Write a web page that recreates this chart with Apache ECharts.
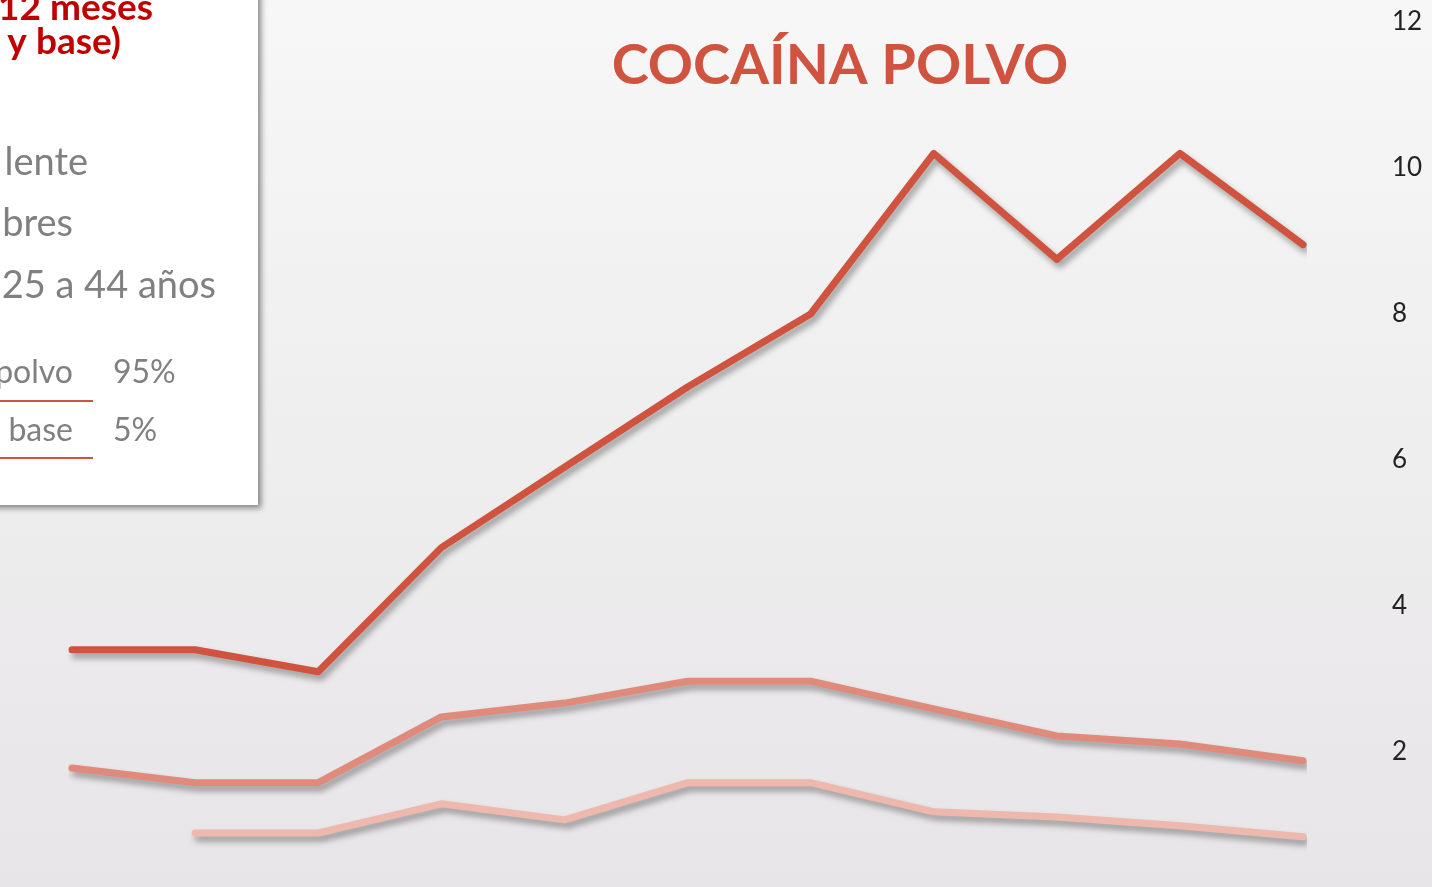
<!DOCTYPE html>
<html>
<head>
<meta charset="utf-8">
<title>Cocaína polvo</title>
<script src="https://cdn.jsdelivr.net/npm/echarts@6/dist/echarts.min.js"></script>
<style>
  html, body { margin: 0; padding: 0; }
  #chart { width: 1432px; height: 887px; }
</style>
</head>
<body>
<div id="chart"></div>
<script>
// datos
var periodos = ['1', '2', '3', '4', '5', '6', '7', '8', '9', '10', '11'];
var serieAlta = [3.4, 3.4, 3.1, 4.8, 5.9, 7.0, 8.0, 10.2, 8.75, 10.2, 8.95];
var serieMedia = [1.78, 1.58, 1.58, 2.48, 2.67, 2.97, 2.97, 2.59, 2.22, 2.11, 1.88];
var serieBaja = ['-', 0.89, 0.89, 1.29, 1.07, 1.58, 1.58, 1.18, 1.11, 0.99, 0.84];
var ticksY = [2, 4, 6, 8, 10, 12];

var rojo = '#d0533f';
var fuente = 'Lato, "Noto Sans", sans-serif';

var myChart = echarts.init(document.getElementById('chart'));

function linea(nombre, datos, color) {
    return {
        name: nombre,
        type: 'line',
        data: datos,
        symbol: 'none',
        smooth: false,
        lineStyle: {
            color: color,
            width: 7,
            cap: 'round',
            join: 'round',
            shadowColor: 'rgba(0, 0, 0, 0.35)',
            shadowBlur: 6,
            shadowOffsetX: 3,
            shadowOffsetY: 5
        },
        z: 3
    };
}

var option = {
    backgroundColor: new echarts.graphic.LinearGradient(0, 0, 0, 1, [
        { offset: 0, color: '#f7f7f7' },
        { offset: 1, color: '#e7e5e7' }
    ]),
    animation: false,
    title: {
        text: 'COCAÍNA POLVO',
        left: 835,
        top: 33,
        textAlign: 'center',
        textStyle: {
            color: rojo,
            fontFamily: fuente,
            fontWeight: 'bold',
            fontSize: 56
        }
    },
    grid: {
        left: 72,
        top: 22,
        width: 1231,
        height: 876,
        outerBoundsMode: 'none'
    },
    xAxis: {
        type: 'category',
        data: periodos,
        boundaryGap: false,
        show: false
    },
    yAxis: {
        type: 'value',
        position: 'right',
        min: 0,
        max: 12,
        interval: 2,
        axisLine: { show: false },
        axisTick: { show: false },
        splitLine: { show: false },
        axisLabel: {
            margin: 89,
            color: '#222',
            fontFamily: fuente,
            fontSize: 26,
            showMinLabel: false,
            formatter: function (v) { return ticksY.indexOf(v) >= 0 ? String(v) : ''; }
        }
    },
    graphic: [
        {
            type: 'rect',
            shape: { x: -20, y: -20, width: 278, height: 525 },
            style: {
                fill: '#ffffff',
                shadowColor: 'rgba(0, 0, 0, 0.45)',
                shadowBlur: 6,
                shadowOffsetX: 3,
                shadowOffsetY: 3
            },
            z: 10
        },
        { type: 'text', x: 153, y: 8, z: 11, style: { text: '12 meses', align: 'right', verticalAlign: 'middle', fill: '#c00000', font: 'bold 37px ' + fuente } },
        { type: 'text', x: 121, y: 42, z: 11, style: { text: 'y base)', align: 'right', verticalAlign: 'middle', fill: '#c00000', font: 'bold 37px ' + fuente } },
        { type: 'text', x: 88, y: 163, z: 11, style: { text: 'lente', align: 'right', verticalAlign: 'middle', fill: '#808080', font: '38px ' + fuente } },
        { type: 'text', x: 73, y: 224, z: 11, style: { text: 'bres', align: 'right', verticalAlign: 'middle', fill: '#808080', font: '38px ' + fuente } },
        { type: 'text', x: 216, y: 286, z: 11, style: { text: '25 a 44 años', align: 'right', verticalAlign: 'middle', fill: '#808080', font: '38px ' + fuente } },
        { type: 'text', x: 73, y: 373, z: 11, style: { text: 'polvo', align: 'right', verticalAlign: 'middle', fill: '#808080', font: '32px ' + fuente } },
        { type: 'text', x: 113, y: 373, z: 11, style: { text: '95%', align: 'left', verticalAlign: 'middle', fill: '#808080', font: '32px ' + fuente } },
        { type: 'rect', z: 11, shape: { x: 0, y: 400, width: 93, height: 2 }, style: { fill: rojo } },
        { type: 'text', x: 73, y: 431, z: 11, style: { text: 'base', align: 'right', verticalAlign: 'middle', fill: '#808080', font: '32px ' + fuente } },
        { type: 'text', x: 113, y: 431, z: 11, style: { text: '5%', align: 'left', verticalAlign: 'middle', fill: '#808080', font: '32px ' + fuente } },
        { type: 'rect', z: 11, shape: { x: 0, y: 457, width: 93, height: 2 }, style: { fill: rojo } }
    ],
    series: [
        linea('Serie 1', serieAlta, rojo),
        linea('Serie 2', serieMedia, '#e08a7c'),
        linea('Serie 3', serieBaja, '#eeb8ad')
    ]
};

myChart.setOption(option);
</script>
</body>
</html>
